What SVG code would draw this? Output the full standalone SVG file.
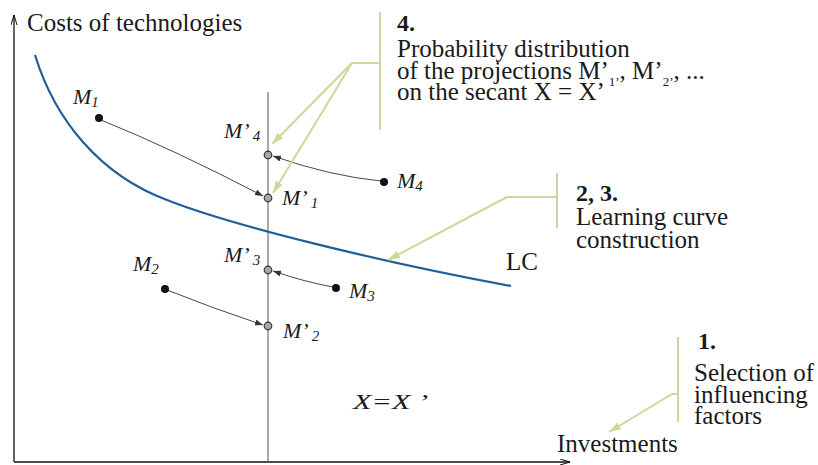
<svg xmlns="http://www.w3.org/2000/svg" width="818" height="465" viewBox="0 0 818 465">
<style>
text{font-family:"Liberation Serif","Times New Roman",serif;fill:#1a1a1a}
.t{font-size:25px}
.b{font-size:24px;font-weight:bold}
.m{font-size:22px;font-style:italic}
.s{font-size:15px}
.s2{font-size:13px}
.axis{stroke:#111;stroke-width:1.3;fill:none}
.sec{stroke:#555;stroke-width:1;fill:none}
.lc{stroke:#1f5f99;stroke-width:2.2;fill:none}
.g{stroke:#c8d99c;stroke-width:2;fill:none}
.ga{stroke:#c8d99c;stroke-width:2;fill:none;marker-end:url(#ga)}
.pa{stroke:#333;stroke-width:0.9;fill:none;marker-end:url(#pa)}
.dot{fill:#111}
.ring{fill:#a8a8a8;stroke:#333;stroke-width:1.2}
</style>
<defs>
<marker id="ga" markerUnits="userSpaceOnUse" markerWidth="14" markerHeight="10" refX="12" refY="4" orient="auto">
<path d="M0,0 L12,4 L0,8 Z" fill="#c8d99c"/>
</marker>
<marker id="pa" markerUnits="userSpaceOnUse" markerWidth="10" markerHeight="8" refX="8" refY="3" orient="auto">
<path d="M0,0 L8,3 L0,6 Z" fill="#333"/>
</marker>
<marker id="ax" markerUnits="userSpaceOnUse" markerWidth="12" markerHeight="8" refX="10" refY="3" orient="auto">
<path d="M0,0 L10,3 L0,6" fill="none" stroke="#111" stroke-width="1"/>
</marker>
</defs>

<g id="axes">
<line class="axis" x1="14" y1="462" x2="14" y2="15" marker-end="url(#ax)"/>
<line class="axis" x1="14" y1="462" x2="570" y2="462" marker-end="url(#ax)"/>
<text class="t" x="27" y="31">Costs of technologies</text>
<text class="t" x="557" y="452">Investments</text>
</g>

<g id="secant">
<line class="sec" x1="268" y1="92" x2="268" y2="462"/>
<text class="m" x="353" y="409" textLength="75" lengthAdjust="spacingAndGlyphs">X=X ’</text>
</g>

<g id="learning-curve">
<path class="lc" d="M35,55 C55,120 100,175 167,200 C230,225 380,262 511,286"/>
<text class="t" x="506" y="270">LC</text>
</g>

<g id="connectors">
<path class="pa" d="M101,120 Q175,150 263,196"/>
<path class="pa" d="M381,181 Q330,176 273,156"/>
<path class="pa" d="M333,287 Q305,282 273,271"/>
<path class="pa" d="M167,290 Q212,308 263,325"/>
<path class="g" d="M380,12 V130 M352,63 H380"/>
<line class="ga" x1="352" y1="63" x2="272" y2="144"/>
<line class="ga" x1="352" y1="63" x2="273" y2="193"/>
<path class="g" d="M557,173 V228 M507,197 H557"/>
<line class="ga" x1="507" y1="197" x2="388" y2="260"/>
<path class="g" d="M678,337 V422 M672,394 H678"/>
<line class="ga" x1="672" y1="394" x2="609" y2="432"/>
</g>

<g id="M1">
<circle class="dot" cx="99" cy="118" r="4"/>
<text class="m" x="73" y="104">M<tspan class="s" dy="3">1</tspan></text>
</g>
<g id="M2">
<circle class="dot" cx="165" cy="289" r="4"/>
<text class="m" x="133" y="271">M<tspan class="s" dy="3">2</tspan></text>
</g>
<g id="M3">
<circle class="dot" cx="336" cy="288" r="4"/>
<text class="m" x="349" y="298">M<tspan class="s" dy="3">3</tspan></text>
</g>
<g id="M4">
<circle class="dot" cx="384" cy="182" r="4"/>
<text class="m" x="397" y="188">M<tspan class="s" dy="3">4</tspan></text>
</g>
<g id="M1p">
<circle class="ring" cx="268" cy="198" r="3.8"/>
<text class="m" x="282" y="205">M’<tspan class="s" dx="3" dy="3">1</tspan></text>
</g>
<g id="M2p">
<circle class="ring" cx="268" cy="326" r="3.8"/>
<text class="m" x="283" y="338">M’<tspan class="s" dx="3" dy="3">2</tspan></text>
</g>
<g id="M3p">
<circle class="ring" cx="268" cy="270" r="3.8"/>
<text class="m" x="224" y="262">M’<tspan class="s" dx="3" dy="3">3</tspan></text>
</g>
<g id="M4p">
<circle class="ring" cx="268" cy="155" r="3.8"/>
<text class="m" x="224" y="138">M’<tspan class="s" dx="3" dy="3">4</tspan></text>
</g>

<g id="note4">
<text class="b" x="397" y="31">4.</text>
<text class="t" x="397" y="57">Probability distribution</text>
<text class="t" x="397" y="79">of the projections M’<tspan class="s2" dy="7">1’</tspan><tspan dy="-7">, M’</tspan><tspan class="s2" dy="7">2’</tspan><tspan dy="-7">, ...</tspan></text>
<text class="t" x="397" y="100">on the secant X = X’</text>
</g>

<g id="note23">
<text class="b" x="576" y="201">2, 3.</text>
<text class="t" x="576" y="225">Learning curve</text>
<text class="t" x="576" y="248">construction</text>
</g>

<g id="note1">
<text class="b" x="698" y="349">1.</text>
<text class="t" x="694" y="381">Selection of</text>
<text class="t" x="694" y="403">influencing</text>
<text class="t" x="694" y="424">factors</text>
</g>
</svg>
